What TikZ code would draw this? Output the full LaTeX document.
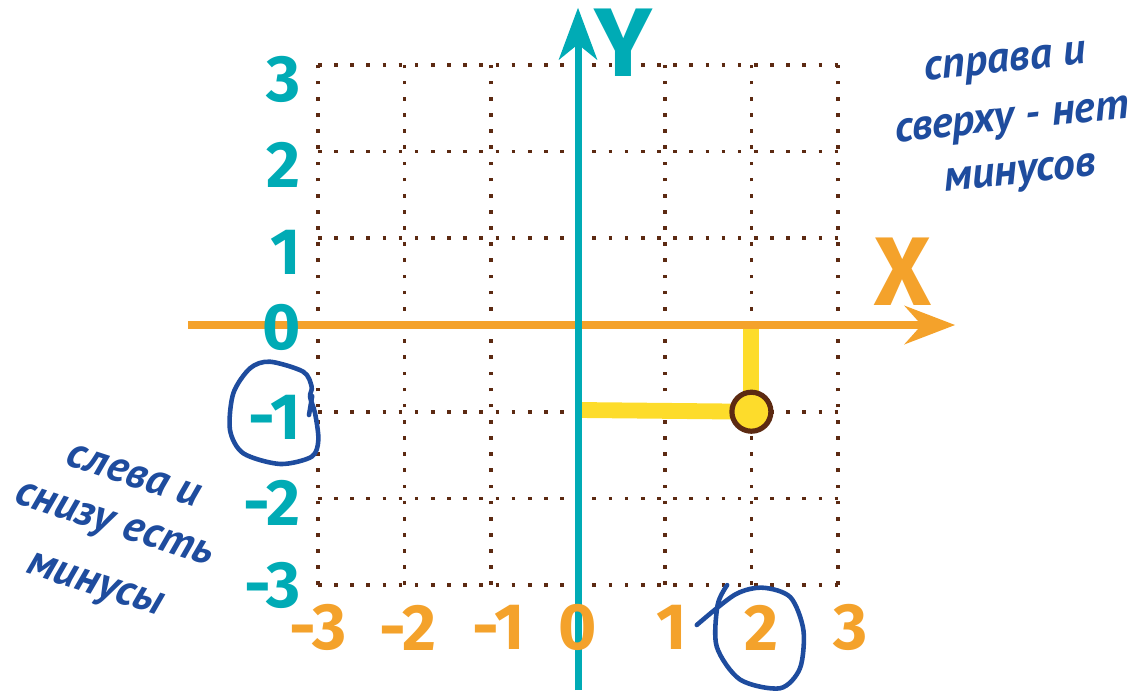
\documentclass[tikz,border=0pt]{standalone}
\usepackage{fontspec}
\setmainfont{Fira Sans}
\newfontfamily\handfont{PT Sans}
\usetikzlibrary{arrows.meta}
\definecolor{axisorange}{HTML}{F4A22B}
\definecolor{axisteal}{HTML}{00ABB5}
\definecolor{gridbrown}{HTML}{5C2A12}
\definecolor{pathyellow}{HTML}{FDDC2B}
\definecolor{noteblue}{HTML}{1E4C9E}
\tikzset{
  xaxis/.style={-{Stealth[length=16.5pt, width=12.5pt, inset=5.5pt]}, line width=2.6pt, axisorange},
  yaxis/.style={-{Stealth[length=17pt, width=12.5pt, inset=5pt]}, line width=2.3pt, axisteal},
  dotgrid/.style={line width=1.2pt, gridbrown, dash pattern=on 1.2pt off 4.1pt},
  coord path/.style={line width=5.2pt, pathyellow},
  point/.style={circle, draw=gridbrown, fill=pathyellow, line width=1.7pt, inner sep=0pt, minimum size=12.8pt},
  xtick/.style={font={\bfseries\fontsize{21.5}{24}\selectfont}, axisorange, inner sep=0pt},
  ytick/.style={font={\bfseries\fontsize{21.5}{24}\selectfont}, axisteal, inner sep=0pt, anchor=east},
  axis name/.style={font={\bfseries\fontsize{32}{36}\selectfont}, inner sep=0pt},
  note/.style={font={\handfont\bfseries\itshape\fontsize{14.5}{17}\selectfont}, noteblue, inner sep=0pt},
  ring/.style={noteblue, line width=1.5pt, line cap=round, line join=round},
}

\begin{document}
\begin{tikzpicture}
  \useasboundingbox (-6.667,-4.244) rectangle (6.413,3.749);

  % Grid
  \draw[dotgrid] (-3,-3) grid (3,3);

  % Path to the point
  \coordinate (P) at (2,-1);
  \coordinate (Px) at (2,0);
  \coordinate (Py) at (0,-0.98);
  \draw[coord path] (Py) -- (P);
  \draw[coord path] (Px) -- (P);

  % Axes
  \draw[xaxis] (-4.5,0) -- (4.35,0);
  \draw[yaxis] (0,-4.21) -- (0,3.66);
  \node[axis name, axisorange] (xname) at (3.75,0.61) {X};
  \node[axis name, axisteal] (yname) at (0.52,3.26) {Y};

  % Tick labels
  \foreach \n/\u in {-3/-3, -2/-1.96, -1/-0.92, 0/0, 1/1.08, 2/2.12, 3/3.14}
    \node[xtick] (xt\n) at (\u,-3.49) {\n};
  \foreach \n/\v in {3/2.83, 2/1.85, 1/0.84, 0/-0.03, -1/-1.07, -2/-2.05, -3/-3.0}
    \node[ytick] (yt\n) at (-3.19,\v) {\n};

  % Point
  \node[point] (Pdot) at (P) {};

  % Notes
  \node[note, rotate=6] (ne1) at (4.93,3.00) {справа и};
  \node[note, rotate=6] (ne2) at (5.01,2.33) {сверху - нет};
  \node[note, rotate=6] (ne3) at (5.10,1.71) {минусов};
  \node[note, rotate=-18] (sw1) at (-5.12,-1.74) {слева и};
  \node[note, rotate=-18] (sw2) at (-5.36,-2.34) {снизу есть};
  \node[note, rotate=-18] (sw3) at (-5.58,-3.03) {минусы};

  % Rings round -1 and 2
  \draw[ring] plot[smooth cycle] coordinates {(-3.553,-0.423) (-3.168,-0.539) (-3.072,-0.712)
    (-3.091,-0.827) (-3.033,-1.018) (-2.995,-1.326) (-3.072,-1.519) (-3.437,-1.603)
    (-3.860,-1.480) (-4.014,-1.211) (-3.976,-0.788) (-3.783,-0.499)};
  \draw[ring] (-3.103,-1.038) -- (-3.066,-0.819);
  \draw[ring] plot[smooth] coordinates {(1.72,-3.00) (1.61,-3.23) (1.60,-3.71) (1.87,-4.09)
    (2.33,-4.19) (2.56,-3.96) (2.60,-3.52) (2.45,-3.14) (2.13,-3.03) (1.81,-3.11) (1.37,-3.46)};
\end{tikzpicture}
\end{document}
